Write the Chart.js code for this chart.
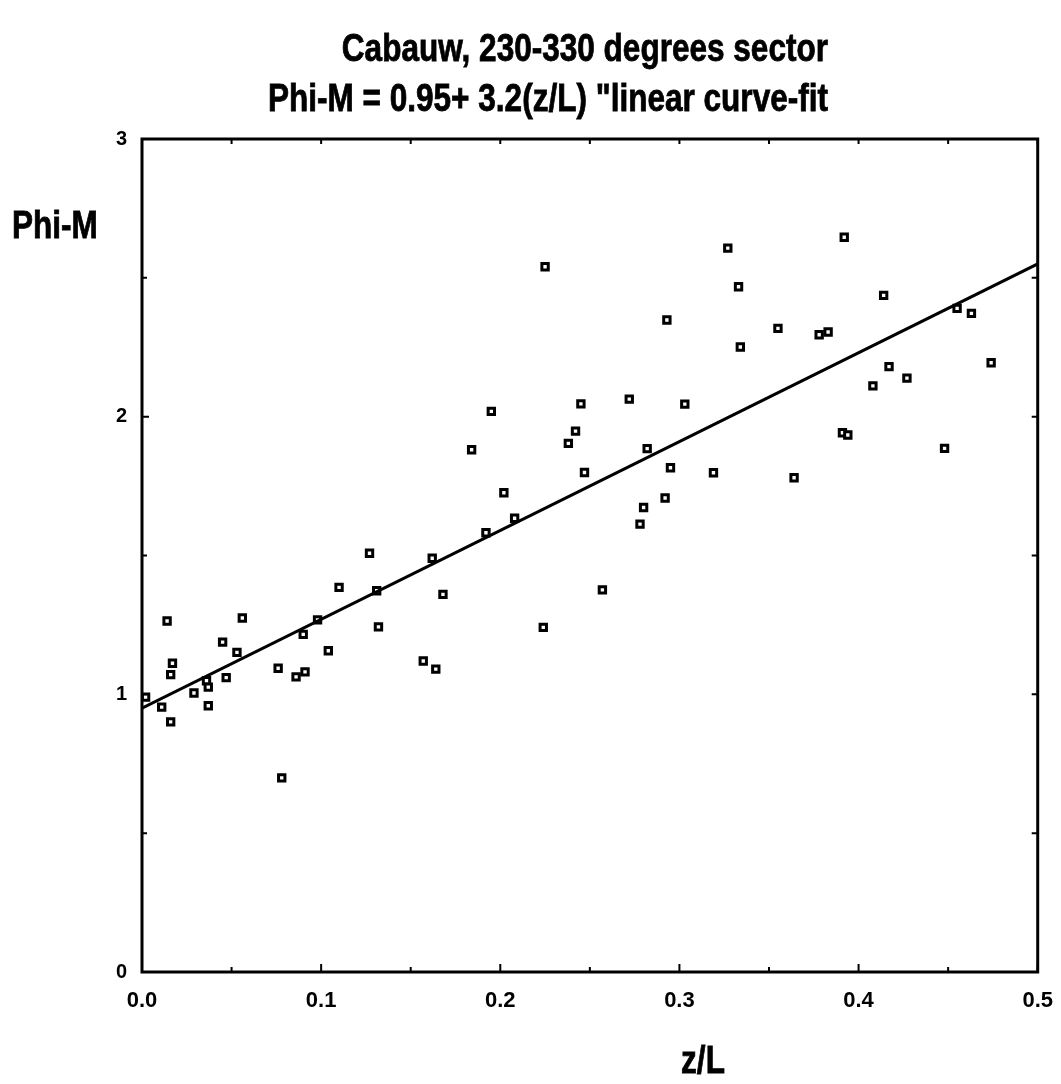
<!DOCTYPE html>
<html>
<head>
<meta charset="utf-8">
<title>Cabauw Phi-M</title>
<script src="https://cdn.jsdelivr.net/npm/chart.js@4.4.1/dist/chart.umd.min.js"></script>
<style>
	html, body { margin: 0; padding: 0; background: #fff; }
</style>
</head>
<body>
<canvas id="myChart" width="1061" height="1084"></canvas>
<script>
// z/L (x) and Phi-M (y) values
const zlValues = [
	0.002, 0.011, 0.014, 0.016, 0.016, 0.017, 0.029, 0.036, 0.037, 0.037,
	0.045, 0.047, 0.053, 0.056, 0.076, 0.078, 0.086, 0.090, 0.091, 0.098,
	0.104, 0.110, 0.127, 0.131, 0.132, 0.157, 0.162, 0.164, 0.168, 0.184,
	0.192, 0.195, 0.202, 0.208, 0.224, 0.225, 0.238, 0.242, 0.245, 0.247,
	0.257, 0.272, 0.278, 0.280, 0.282, 0.292, 0.293, 0.295, 0.303, 0.319,
	0.327, 0.333, 0.334, 0.355, 0.364, 0.378, 0.383, 0.391, 0.392, 0.394,
	0.408, 0.414, 0.417, 0.427, 0.448, 0.455, 0.463, 0.474
];
const phiValues = [
	0.990, 0.954, 1.264, 1.071, 0.901, 1.112, 1.005, 1.049, 0.959, 1.026,
	1.188, 1.060, 1.151, 1.275, 1.094, 0.699, 1.063, 1.216, 1.081, 1.268,
	1.157, 1.385, 1.508, 1.373, 1.243, 1.120, 1.490, 1.091, 1.360, 1.881,
	1.582, 2.019, 1.726, 1.634, 1.241, 2.540, 1.904, 1.948, 2.046, 1.799,
	1.376, 2.063, 1.613, 1.673, 1.885, 1.707, 2.348, 1.816, 2.045, 1.798,
	2.607, 2.468, 2.251, 2.318, 1.780, 2.295, 2.305, 1.942, 2.646, 1.934,
	2.111, 2.437, 2.180, 2.139, 1.886, 2.390, 2.372, 2.194
];
// linear curve-fit : Phi-M = 0.95 + 3.2 (z/L)
const fitIntercept = 0.95;
const fitSlope = 3.2;
const fitZl = [0, 0.5];

// axis ticks
const xMajorTicks = [0, 0.1, 0.2, 0.3, 0.4, 0.5];
const xMinorTicks = [0.05, 0.15, 0.25, 0.35, 0.45];
const yTicks = [0.5, 1, 1.5, 2, 2.5];

const titleText = 'Cabauw, 230-330 degrees sector';
const subtitleText = 'Phi-M = 0.95+ 3.2(z/L) "linear curve-fit';
const yLabelText = 'Phi-M';
const xLabelText = 'z/L';

const FONT = '"Liberation Sans", Arial, Helvetica, sans-serif';

// condensed bold text (title, axis names)
function drawNarrow(ctx, text, x, y, align) {
	ctx.save();
	ctx.font = 'bold 38px ' + FONT;
	ctx.textBaseline = 'alphabetic';
	ctx.textAlign = align;
	ctx.translate(x, y);
	ctx.scale(0.83, 1);
	ctx.lineWidth = 0.8;
	ctx.strokeText(text, 0, 0);
	ctx.fillText(text, 0, 0);
	ctx.restore();
}

// frame, inner ticks and texts
const framePlugin = {
	id: 'framePlugin',
	afterDraw(chart) {
		const ctx = chart.ctx;
		const a = chart.chartArea;
		const xs = chart.scales.x;
		const ys = chart.scales.y;
		ctx.save();
		ctx.strokeStyle = '#000';
		ctx.fillStyle = '#000';
		ctx.lineWidth = 3;
		ctx.strokeRect(a.left, a.top, a.right - a.left, a.bottom - a.top);

		ctx.lineWidth = 2;
		ctx.beginPath();
		xMajorTicks.concat(xMinorTicks).forEach((v) => {
			const px = xs.getPixelForValue(v);
			const len = xMajorTicks.includes(v) ? 8 : 5;
			ctx.moveTo(px, a.bottom);
			ctx.lineTo(px, a.bottom - len);
			ctx.moveTo(px, a.top);
			ctx.lineTo(px, a.top + 5);
		});
		yTicks.forEach((v) => {
			const py = ys.getPixelForValue(v);
			const len = Number.isInteger(v) ? 7 : 5;
			ctx.moveTo(a.left, py);
			ctx.lineTo(a.left + len, py);
			ctx.moveTo(a.right, py);
			ctx.lineTo(a.right - 6, py);
		});
		ctx.stroke();

		drawNarrow(ctx, titleText, 828, 61, 'right');
		drawNarrow(ctx, subtitleText, 828, 111, 'right');
		drawNarrow(ctx, yLabelText, 12, 238, 'left');
		drawNarrow(ctx, xLabelText, 703, 1073, 'center');
		ctx.restore();
	}
};

const ctx = document.getElementById('myChart');

new Chart(ctx, {
	type: 'scatter',
	data: {
		datasets: [
			{
				type: 'line',
				label: 'curve-fit',
				data: fitZl.map((z) => ({ x: z, y: fitIntercept + fitSlope * z })),
				borderColor: '#000',
				borderWidth: 3,
				pointRadius: 0,
				fill: false,
				order: 0
			},
			{
				label: 'Phi-M',
				data: zlValues.map((z, i) => ({ x: z, y: phiValues[i] })),
				pointStyle: 'rect',
				pointRadius: 4.5,
				pointBorderWidth: 3,
				pointBorderColor: '#000',
				pointBackgroundColor: '#fff',
				order: 1
			}
		]
	},
	options: {
		responsive: false,
		animation: false,
		layout: { padding: { left: 110, right: 21, top: 139, bottom: 72 } },
		plugins: {
			legend: { display: false },
			tooltip: { enabled: false }
		},
		scales: {
			x: {
				type: 'linear',
				min: 0,
				max: 0.5,
				afterFit: (scale) => { scale.height = 40; },
				grid: { display: false },
				border: { display: false },
				ticks: {
					stepSize: 0.1,
					padding: 8,
					color: '#000',
					font: { family: FONT, size: 22, weight: 'bold' },
					maxRotation: 0,
					callback: (v) => v.toFixed(1)
				}
			},
			y: {
				min: 0,
				max: 3,
				afterFit: (scale) => { scale.width = 32; },
				grid: { display: false },
				border: { display: false },
				ticks: {
					stepSize: 1,
					padding: 7,
					color: '#000',
					font: { family: FONT, size: 20, weight: 'bold' }
				}
			}
		}
	},
	plugins: [framePlugin]
});
</script>
</body>
</html>
